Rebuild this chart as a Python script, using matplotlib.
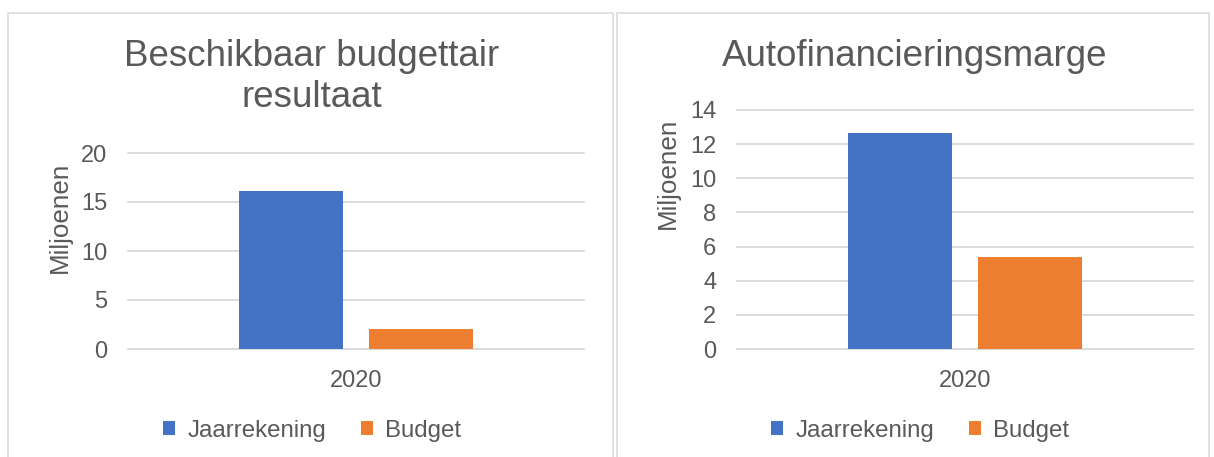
import numpy as np
import matplotlib.pyplot as plt
from matplotlib.patches import Rectangle

plt.rcParams['font.family'] = ['Liberation Sans', 'DejaVu Sans']

categories = ['2020']
series_names = ['Jaarrekening', 'Budget']

# left chart (millions)
bbr_jaarrekening = [16.1]
bbr_budget = [2.05]
bbr_ticks = [0, 5, 10, 15, 20]

# right chart (millions)
afm_jaarrekening = [12.64]
afm_budget = [5.40]
afm_ticks = [0, 2, 4, 6, 8, 10, 12, 14]

blue = '#4472C4'
orange = '#ED7D31'
txt = '#595959'
grid = '#D9D9D9'

W, H = 1214, 457
fig = plt.figure(figsize=(W / 100, H / 100), dpi=100)


def px_rect(x0, x1, ytop, ybot):
    return [x0 / W, 1 - ybot / H, (x1 - x0) / W, (ybot - ytop) / H]


# panel borders
for x0, x1 in [(8, 613), (617, 1209)]:
    fig.patches.append(Rectangle((x0 / W, -0.1), (x1 - x0) / W, 1.1 - 13 / H,
                                 transform=fig.transFigure, fill=False,
                                 edgecolor=grid, linewidth=1.1))


def draw(rect, jaar, budget, ticks, title, title_xy, label_xy, legend_x):
    ax = fig.add_axes(rect)
    x = np.arange(len(categories))
    w = 0.226
    ax.bar(x - 0.1425, jaar, w, color=blue, label=series_names[0], zorder=3)
    ax.bar(x + 0.1425, budget, w, color=orange, label=series_names[1], zorder=3)
    ax.set_xlim(-0.5, 0.5)
    ax.set_ylim(ticks[0], ticks[-1])
    ax.set_yticks(ticks)
    ax.set_xticks(x)
    ax.set_xticklabels(categories)
    for s in ax.spines.values():
        s.set_visible(False)
    ax.grid(axis='y', color=grid, linewidth=1.3, zorder=0)
    ax.tick_params(length=0, labelsize=17, labelcolor=txt, pad=15)
    ax.set_axisbelow(True)
    # keep the top/bottom gridlines from being clipped
    for gl in ax.get_ygridlines():
        gl.set_clip_on(False)

    # baseline of the last title line
    fig.text(title_xy[0] / W, 1 - title_xy[1] / H, title, ha='center',
             va='baseline', fontsize=26.5, color=txt, linespacing=1.22)
    fig.text(label_xy[0] / W, 1 - label_xy[1] / H, 'Miljoenen', rotation=90,
             rotation_mode='anchor', ha='center', va='baseline',
             fontsize=18.7, color=txt)
    ax.legend(loc='center', bbox_to_anchor=(legend_x / W, 1 - 430.5 / H),
              bbox_transform=fig.transFigure, ncol=2, frameon=False,
              fontsize=17.3, labelcolor=txt, handlelength=0.5,
              handleheight=0.5, handletextpad=0.5, columnspacing=1.45)
    return ax


draw(px_rect(128, 584, 153, 349), bbr_jaarrekening, bbr_budget, bbr_ticks,
     'Beschikbaar budgettair\nresultaat', (312, 107), (67, 217), 312)
draw(px_rect(737, 1193, 110, 349), afm_jaarrekening, afm_budget, afm_ticks,
     'Autofinancieringsmarge', (915, 66), (675, 173), 920)

fig.savefig('out.png', dpi=100)
